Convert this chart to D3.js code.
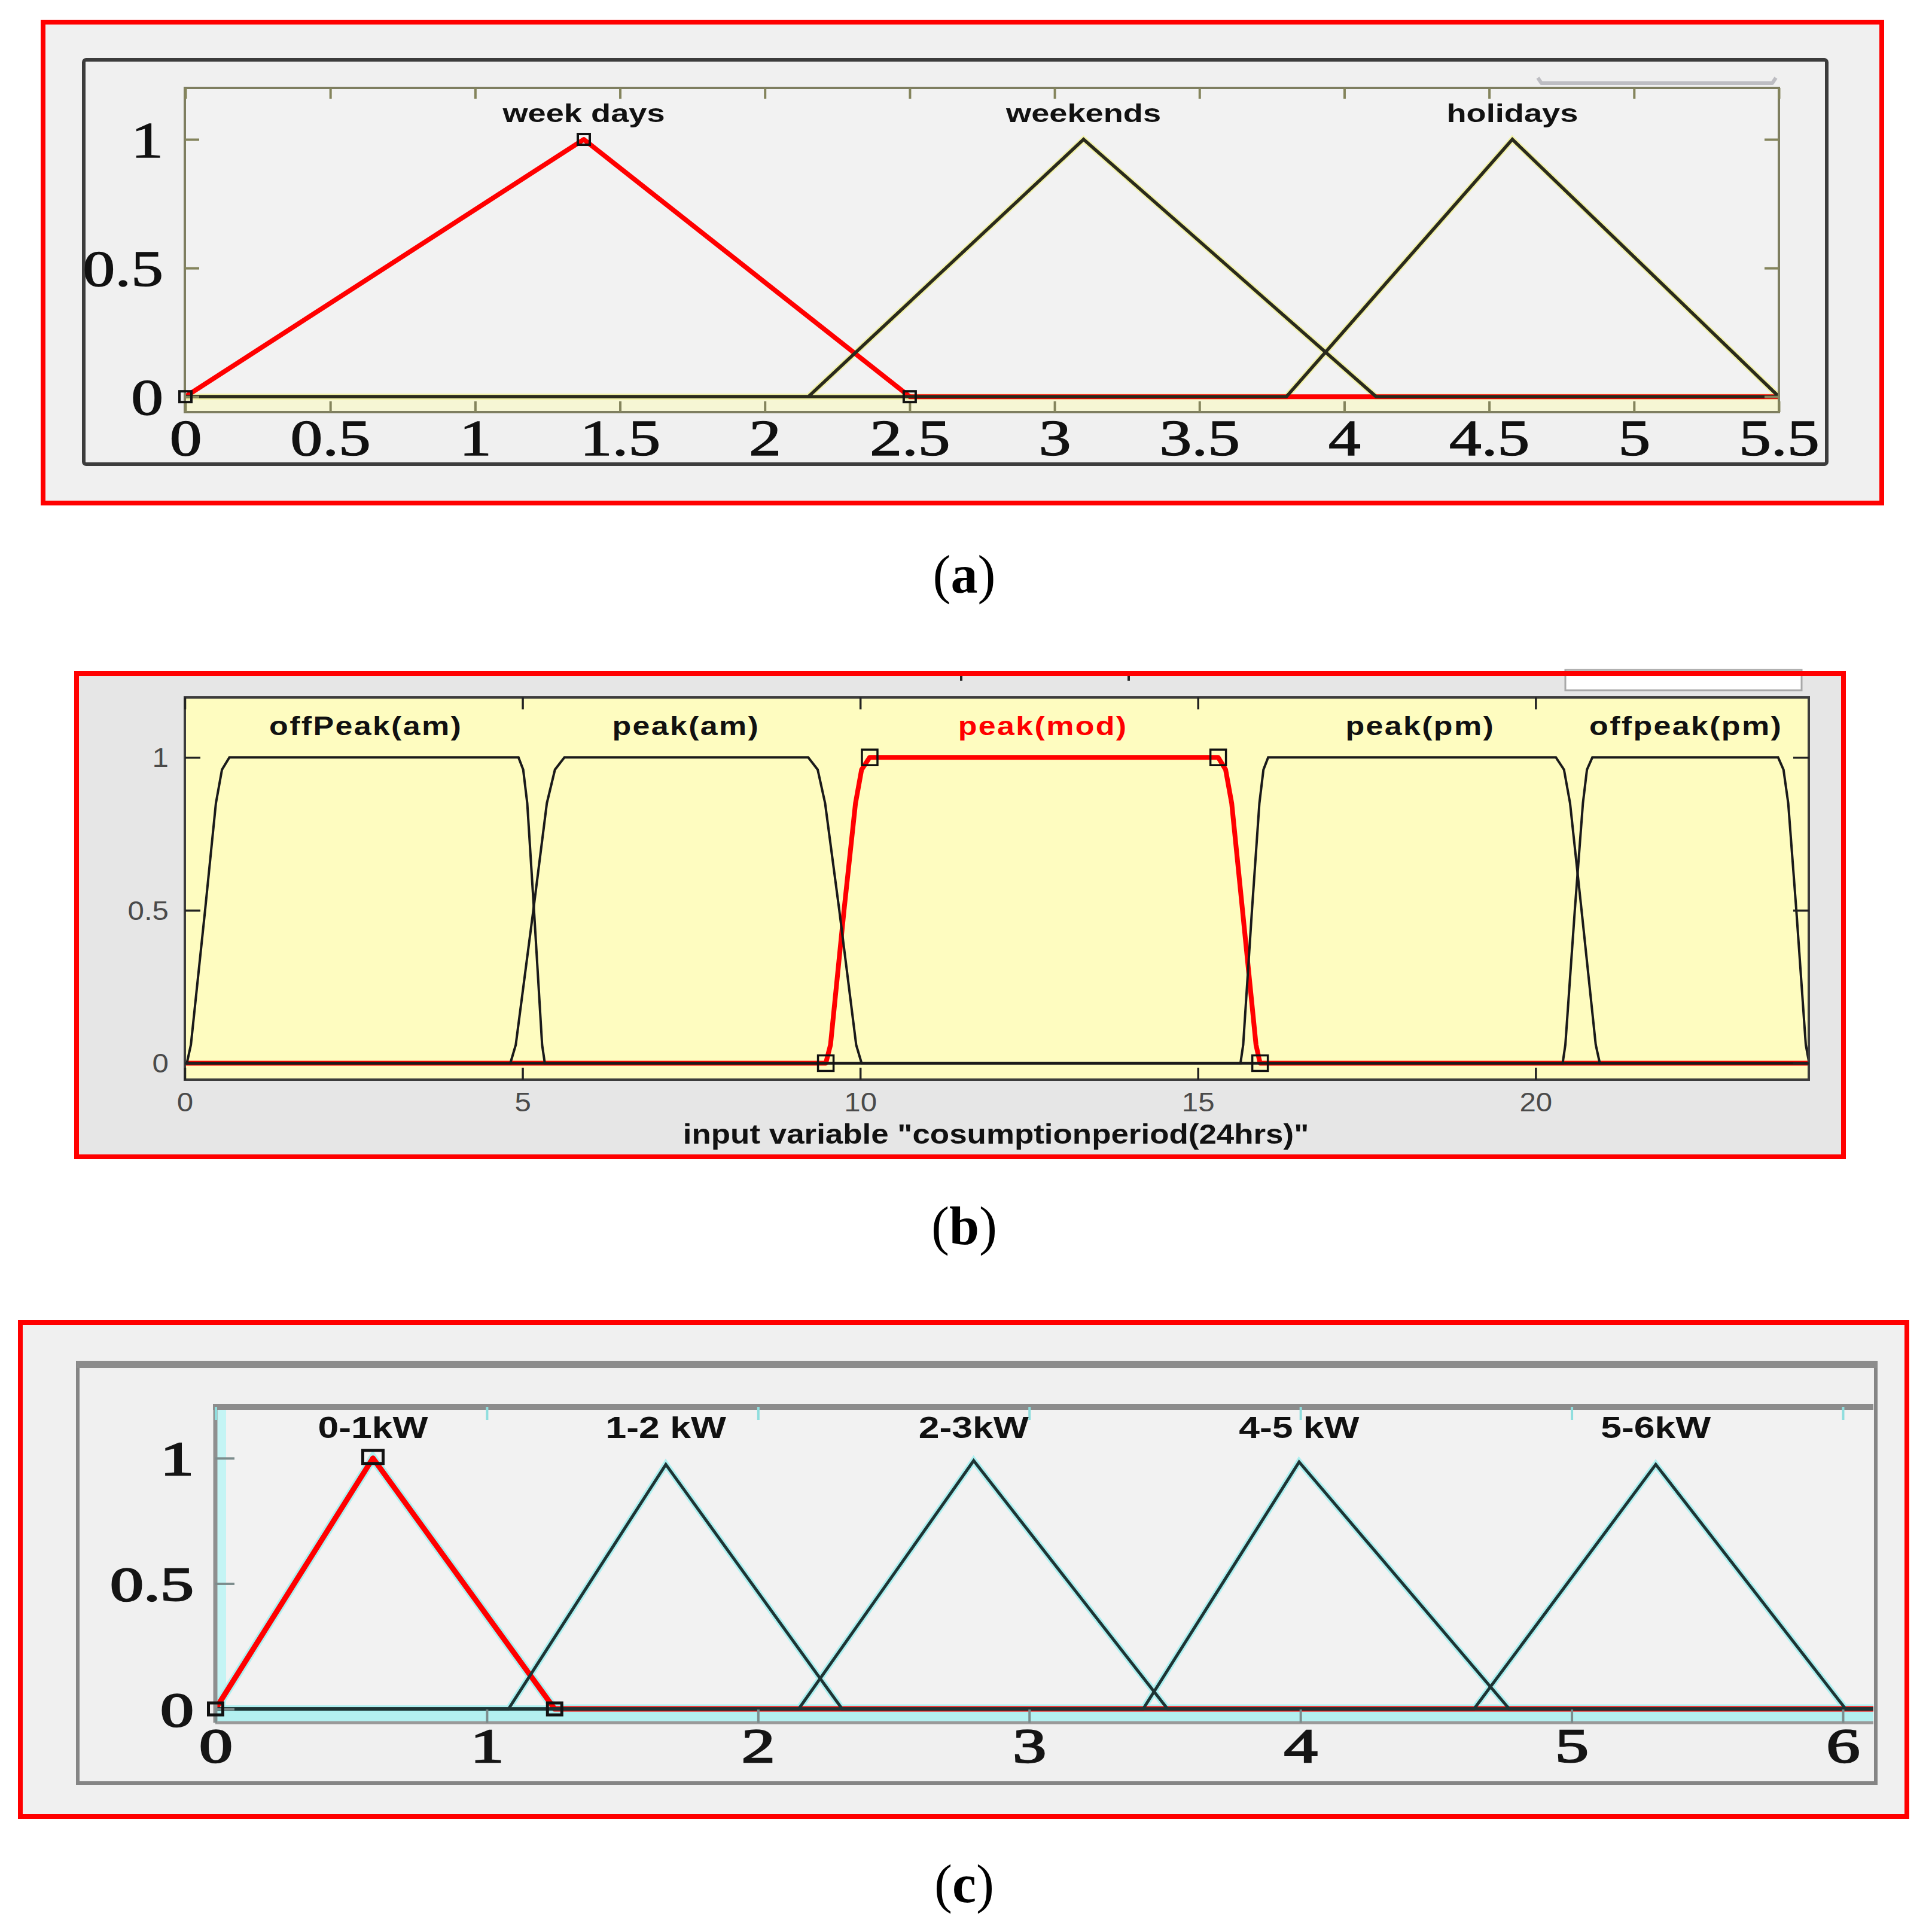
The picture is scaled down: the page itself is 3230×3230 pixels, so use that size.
<!DOCTYPE html>
<html>
<head>
<meta charset="utf-8">
<script src="https://cdn.jsdelivr.net/npm/d3@7"></script>
<style>
body{margin:0;background:#fff;}
svg{display:block;}
</style>
</head>
<body>
<script>
// ---- data ----
var yTickVals = [0, 0.5, 1];
var yTickLabels = ["0", "0.5", "1"];

// (a) day type
var aTickVals = [0, 0.5, 1, 1.5, 2, 2.5, 3, 3.5, 4, 4.5, 5, 5.5];
var aTickLabels = ["0", "0.5", "1", "1.5", "2", "2.5", "3", "3.5", "4", "4.5", "5", "5.5"];
var aNames = ["week days", "weekends", "holidays"];
var aParams = [[0, 1.375, 2.5], [2.15, 3.1, 4.11], [3.8, 4.58, 5.5]];

// (b) consumption period
var bTickVals = [0, 5, 10, 15, 20];
var bTickLabels = ["0", "5", "10", "15", "20"];
var bNames = ["offPeak(am)", "peak(am)", "peak(mod)", "peak(pm)", "offpeak(pm)"];
var bRiseLevels = [0, 0.06, 0.5, 0.85, 0.96, 1];
var bFallLevels = [1, 0.96, 0.85, 0.5, 0.06, 0];
var bRiseX = [
  [0.03, 0.09, 0.30, 0.46, 0.55, 0.66],
  [4.82, 4.90, 5.16, 5.36, 5.48, 5.62],
  [9.49, 9.56, 9.76, 9.93, 10.02, 10.14],
  [15.63, 15.67, 15.80, 15.91, 15.97, 16.04],
  [20.40, 20.44, 20.58, 20.70, 20.76, 20.84]
];
var bFallX = [
  [4.94, 5.01, 5.07, 5.17, 5.29, 5.33],
  [9.23, 9.37, 9.48, 9.69, 9.94, 10.02],
  [15.30, 15.41, 15.50, 15.66, 15.86, 15.92],
  [20.30, 20.42, 20.51, 20.68, 20.89, 20.95],
  [23.59, 23.67, 23.74, 23.86, 24.00, 24.05]
];

// (c) power demand
var cTickVals = [0, 1, 2, 3, 4, 5, 6];
var cTickLabels = ["0", "1", "2", "3", "4", "5", "6"];
var cNames = ["0-1kW", "1-2 kW", "2-3kW", "4-5 kW", "5-6kW"];
var cParams = [[0, 0.58, 1.25], [1.08, 1.66, 2.31], [2.15, 2.795, 3.51], [3.42, 3.995, 4.77], [4.64, 5.31, 6.01]];
var cPeaks = [1, 0.975, 0.99, 0.985, 0.975];

var SANS = "'Liberation Sans', Arial, sans-serif";
var SERIF = "'Liberation Serif', 'Times New Roman', serif";

var W = 3230, H = 3230;
var svg = d3.select("body").append("svg").attr("width", W).attr("height", H);
svg.append("rect").attr("width", W).attr("height", H).attr("fill", "#fff");

function rect(g, x0, y0, x1, y1, fill, stroke, sw) {
  return g.append("rect").attr("x", x0).attr("y", y0)
    .attr("width", x1 - x0).attr("height", y1 - y0)
    .attr("fill", fill).attr("stroke", stroke || "none").attr("stroke-width", sw || 0);
}

function drawAxes(g, x, y, p, o) {
  var bottom = g.append("g").attr("transform", "translate(0," + p.bottom + ")")
    .call(d3.axisBottom(x).tickValues(o.xVals).tickFormat(function(d, i) { return o.xLabels[i]; })
      .tickSize(-o.tick).tickPadding(0));
  var left = g.append("g").attr("transform", "translate(" + p.left + ",0)")
    .call(d3.axisLeft(y).tickValues(yTickVals).tickFormat(function(d, i) { return yTickLabels[i]; })
      .tickSize(-o.ytick).tickPadding(0));
  var top = g.append("g").attr("transform", "translate(0," + p.top + ")")
    .call(d3.axisTop(x).tickValues(o.xVals).tickFormat("").tickSize(-o.tick));
  var axes = [bottom, left, top];
  if (o.right) {
    var right = g.append("g").attr("transform", "translate(" + p.right + ",0)")
      .call(d3.axisRight(y).tickValues(yTickVals).tickFormat("").tickSize(-o.ytick));
    axes.push(right);
  }
  axes.forEach(function(a) {
    a.select(".domain").remove();
    a.attr("font-family", o.font).attr("font-size", o.size);
    a.selectAll("line").attr("stroke", o.tickColor).attr("stroke-width", o.tickWidth);
    a.selectAll("text").attr("fill", o.color).attr("font-weight", o.weight)
      .attr("stroke", o.textStroke ? o.color : "none").attr("stroke-width", o.textStroke || 0);
  });
  if (o.topTickColor) top.selectAll("line").attr("stroke", o.topTickColor);
  bottom.selectAll("text").attr("y", o.xLabelY).attr("dy", null)
    .attr("transform", "scale(" + o.sx + ",1)");
  left.selectAll("text").attr("x", -o.yLabelX / o.sx).attr("dy", "0.35em")
    .attr("transform", "scale(" + o.sx + ",1)");
}

function mfLabels(g, names, xs, yPix, o) {
  g.selectAll(null).data(names).enter().append("text")
    .attr("transform", function(d, i) { return "translate(" + xs[i] + "," + yPix + ") scale(" + o.sx + ",1)"; })
    .attr("text-anchor", "middle")
    .attr("font-family", SANS).attr("font-size", o.size).attr("font-weight", "bold")
    .attr("letter-spacing", o.spacing || 0)
    .attr("fill", function(d, i) { return i === o.red ? "#ff0000" : "#111"; })
    .text(function(d) { return d; });
}

function squares(g, pts, x, y, w, h, sw) {
  g.selectAll(null).data(pts).enter().append("rect")
    .attr("x", function(d) { return x(d[0]) - w / 2; })
    .attr("y", function(d) { return y(d[1]) - h / 2; })
    .attr("width", w).attr("height", h)
    .attr("fill", "none").attr("stroke", "#111").attr("stroke-width", sw);
}

function caption(letter, yBase) {
  var t = svg.append("text").attr("x", 1612).attr("y", yBase).attr("text-anchor", "middle")
    .attr("font-family", SERIF).attr("font-size", 90).attr("fill", "#000");
  t.append("tspan").text("(");
  t.append("tspan").attr("font-weight", "bold").text(letter);
  t.append("tspan").text(")");
}

// ================= (a) =================
var ga = svg.append("g");
var pa = {left: 309, top: 147, right: 2974, bottom: 689};
var xa = d3.scaleLinear().domain([0, 5.5]).range([310, 2974]);
var ya = d3.scaleLinear().domain([-0.06, 1.2]).range([689, 147]);

rect(ga, 72, 37, 3146, 841, "#f0f0f0");
rect(ga, 140, 100, 3054, 776, "#f0f0f0", "#3c3c3c", 6).attr("rx", 4);
rect(ga, pa.left, pa.top, pa.right, pa.bottom, "#f2f2f2");
rect(ga, pa.left, ya(0), pa.right, pa.bottom, "#f6f6d4");
// little slider bar above the axes
ga.append("path").attr("d", "M2571,130 L2577,139 L2963,139 L2969,130")
  .attr("fill", "none").attr("stroke", "#bdbdc2").attr("stroke-width", 6).attr("stroke-linejoin", "round");

ga.append("clipPath").attr("id", "clipA").append("rect")
  .attr("x", pa.left).attr("y", pa.top).attr("width", pa.right - pa.left).attr("height", pa.bottom - pa.top);

var lineA = d3.line().x(function(d) { return xa(d[0]); }).y(function(d) { return ya(d[1]); });
var aCurves = aParams.map(function(p) { return [[0, 0], [p[0], 0], [p[1], 1], [p[2], 0], [5.5, 0]]; });
var ca = ga.append("g").attr("clip-path", "url(#clipA)");
ca.selectAll(null).data(aCurves.slice(1)).enter().append("path")
  .attr("d", lineA).attr("fill", "none").attr("stroke", "#f2f2a8").attr("stroke-width", 10);
ca.append("path").datum(aCurves[0]).attr("d", lineA).attr("fill", "none")
  .attr("stroke", "#ff0000").attr("stroke-width", 8).attr("stroke-linejoin", "round");
ca.selectAll(null).data(aCurves.slice(1)).enter().append("path")
  .attr("d", lineA).attr("fill", "none").attr("stroke", "#2a2a1c").attr("stroke-width", 5.5);

rect(ga, pa.left, pa.top, pa.right, pa.bottom, "none", "#7e7e60", 4);
drawAxes(ga, xa, ya, pa, {
  xVals: aTickVals, xLabels: aTickLabels, tick: 18, ytick: 24, right: true,
  tickColor: "#84845c", tickWidth: 4, xLabelY: 72, yLabelX: 36,
  font: SERIF, size: 84, weight: "normal", color: "#111", textStroke: 1.5, sx: 1.28
});
squares(ga, [[0, 0], [aParams[0][1], 1], [aParams[0][2], 0]], xa, ya, 20, 18, 4);
mfLabels(ga, aNames, aParams.map(function(p) { return xa(p[1]); }), ya(1.067), {size: 43, sx: 1.26});

rect(ga, 72, 37, 3146, 841, "none", "#ff0000", 8);
caption("a", 991);

// ================= (b) =================
var gb = svg.append("g");
var pb = {left: 309, top: 1166, right: 3024, bottom: 1805};
var xb = d3.scaleLinear().domain([0, 24]).range([309, 3019]);
var yb = d3.scaleLinear().domain([-0.05, 1.2]).range([1803, 1164]);

rect(gb, 128, 1126, 3082, 1934, "#e6e6e6");
rect(gb, 2617, 1120, 3012, 1154, "#ffffff", "#a8a8a8", 3);
gb.selectAll(null).data([1607, 1887]).enter().append("line")
  .attr("x1", function(d) { return d; }).attr("x2", function(d) { return d; })
  .attr("y1", 1126).attr("y2", 1138).attr("stroke", "#222").attr("stroke-width", 4);
rect(gb, pb.left, pb.top, pb.right, pb.bottom, "#fefcc0");

gb.append("clipPath").attr("id", "clipB").append("rect")
  .attr("x", pb.left).attr("y", pb.top).attr("width", pb.right - pb.left).attr("height", pb.bottom - pb.top);

var lineB = d3.line().x(function(d) { return xb(d[0]); }).y(function(d) { return yb(d[1]); });
var bCurves = bRiseX.map(function(r, i) {
  var pts = [[0, 0]];
  r.forEach(function(x, j) { pts.push([x, bRiseLevels[j]]); });
  bFallX[i].forEach(function(x, j) { pts.push([x, bFallLevels[j]]); });
  pts.push([24.2, 0]);
  return pts;
});
var cb = gb.append("g").attr("clip-path", "url(#clipB)");
cb.append("path").datum(bCurves[2]).attr("d", lineB).attr("fill", "none")
  .attr("stroke", "#ff0000").attr("stroke-width", 8).attr("stroke-linejoin", "round");
cb.selectAll(null).data(bCurves.filter(function(d, i) { return i !== 2; })).enter().append("path")
  .attr("d", lineB).attr("fill", "none").attr("stroke", "#1a1a1a").attr("stroke-width", 4);

rect(gb, pb.left, pb.top, pb.right, pb.bottom, "none", "#3c3c3c", 4);
drawAxes(gb, xb, yb, pb, {
  xVals: bTickVals, xLabels: bTickLabels, tick: 20, ytick: 26, right: true,
  tickColor: "#222", tickWidth: 3.5, xLabelY: 53, yLabelX: 27,
  font: SANS, size: 44, weight: "normal", color: "#4a4a4a", sx: 1.12
});
squares(gb, [[bRiseX[2][0], 0], [bRiseX[2][5], 1], [bFallX[2][0], 1], [bFallX[2][5], 0]], xb, yb, 26, 26, 3.5);
mfLabels(gb, bNames, bRiseX.map(function(r, i) { return xb((r[0] + bFallX[i][5]) / 2); }), 1229,
  {size: 44, sx: 1.18, spacing: 2, red: 2});
gb.append("text").attr("transform", "translate(1665,1912) scale(1.15,1)").attr("text-anchor", "middle")
  .attr("font-family", SANS).attr("font-size", 46).attr("font-weight", "bold").attr("fill", "#111")
  .text('input variable "cosumptionperiod(24hrs)"');

rect(gb, 128, 1126, 3082, 1934, "none", "#ff0000", 8);
caption("b", 2080);

// ================= (c) =================
var gc = svg.append("g");
var pc = {left: 360, top: 2352, right: 3132, bottom: 2880};
var xc = d3.scaleLinear().domain([0, 6]).range([360.5, 3081]);
var yc = d3.scaleLinear().domain([-0.05, 1.2]).range([2878, 2354]);

rect(gc, 34, 2211, 3188, 3037, "#f0f0f0");
rect(gc, 130, 2278, 3136, 2981, "#f0f0f0", "#858585", 6);
gc.append("line").attr("x1", 128).attr("x2", 3138).attr("y1", 2281).attr("y2", 2281)
  .attr("stroke", "#8c8c8c").attr("stroke-width", 12);
rect(gc, pc.left, pc.top, pc.right, pc.bottom, "#f2f2f2");
rect(gc, pc.left, pc.top, pc.left + 18, pc.bottom, "#c4f4f4");
rect(gc, pc.left, yc(0), pc.right, pc.bottom, "#b4f0f0");

gc.append("clipPath").attr("id", "clipC").append("rect")
  .attr("x", pc.left).attr("y", pc.top).attr("width", pc.right - pc.left).attr("height", pc.bottom - pc.top);

var lineC = d3.line().x(function(d) { return xc(d[0]); }).y(function(d) { return yc(d[1]); });
var cCurves = cParams.map(function(p, i) { return [[0, 0], [p[0], 0], [p[1], cPeaks[i]], [p[2], 0], [6.2, 0]]; });
var cc = gc.append("g").attr("clip-path", "url(#clipC)");
cc.selectAll(null).data(cCurves).enter().append("path")
  .attr("d", lineC).attr("fill", "none").attr("stroke", "#aef0f0")
  .attr("stroke-width", function(d, i) { return i === 0 ? 15 : 11; });
cc.append("path").datum(cCurves[0]).attr("d", lineC).attr("fill", "none")
  .attr("stroke", "#ff0000").attr("stroke-width", 9).attr("stroke-linejoin", "round");
cc.selectAll(null).data(cCurves.slice(1)).enter().append("path")
  .attr("d", lineC).attr("fill", "none").attr("stroke", "#1d3434").attr("stroke-width", 5);

gc.append("line").attr("x1", pc.left).attr("x2", pc.left).attr("y1", pc.top).attr("y2", pc.bottom)
  .attr("stroke", "#8f8f8f").attr("stroke-width", 7);
gc.append("line").attr("x1", pc.left).attr("x2", pc.right).attr("y1", pc.bottom).attr("y2", pc.bottom)
  .attr("stroke", "#9a9a9a").attr("stroke-width", 5);
gc.append("line").attr("x1", pc.left - 4).attr("x2", pc.right).attr("y1", pc.top).attr("y2", pc.top)
  .attr("stroke", "#8c8c8c").attr("stroke-width", 10);
drawAxes(gc, xc, yc, pc, {
  xVals: cTickVals, xLabels: cTickLabels, tick: 22, ytick: 32, right: false,
  tickColor: "#7c8c8c", topTickColor: "#8fdede", tickWidth: 4, xLabelY: 66, yLabelX: 36,
  font: SERIF, size: 80, weight: "normal", color: "#151515", textStroke: 2.5, sx: 1.4
});
squares(gc, [[0, 0], [cParams[0][2], 0]], xc, yc, 24, 20, 5);
squares(gc, [[cParams[0][1], 1.005]], xc, yc, 34, 22, 5);
mfLabels(gc, cNames, cParams.map(function(p) { return xc(p[1]); }), yc(1.08), {size: 50, sx: 1.25});

rect(gc, 34, 2211, 3188, 3037, "none", "#ff0000", 8);
caption("c", 3180);
</script>
</body>
</html>
